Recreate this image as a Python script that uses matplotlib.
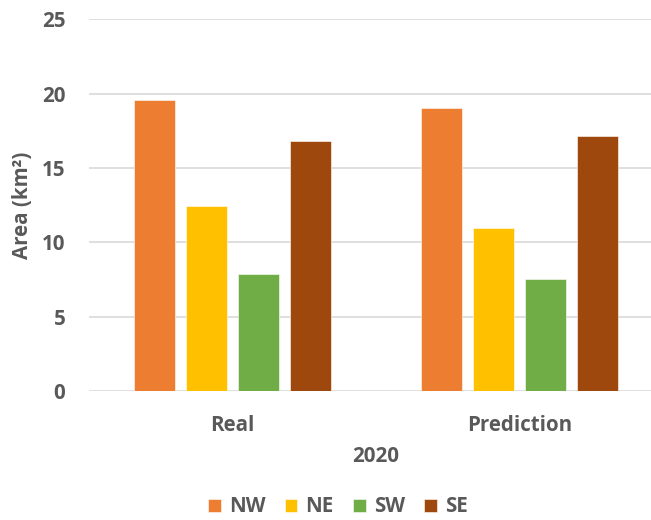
import numpy as np
import matplotlib.pyplot as plt

# Area per quadrant, 2020
groups = ["Real", "Prediction"]
regions = ["NW", "NE", "SW", "SE"]
nw = [19.6, 19.05]
ne = [12.45, 10.98]
sw = [7.9, 7.5]
se = [16.83, 17.15]
colors = ["#ED7D31", "#FFC000", "#70AD47", "#9E480E"]

text_color = "#595959"
fs = 14.8
plt.rcParams["font.family"] = ["Open Sans", "DejaVu Sans"]
plt.rcParams["font.weight"] = "bold"

fig = plt.figure(figsize=(6.51, 5.20), dpi=100)
W, H = 651, 520
ax = fig.add_axes([89 / W, (H - 391) / H, (W - 89) / W, 371.7 / H])

x = np.arange(len(groups))
width = 0.143
step = 0.181
for i, (name, vals) in enumerate(zip(regions, [nw, ne, sw, se])):
    ax.bar(x + (i - 1.5) * step, vals, width, color=colors[i], label=name,
           edgecolor="white", linewidth=0.4, zorder=3)

ax.set_xlim(-0.5, (W - 232.5) / 287)
ax.set_ylim(0, 25)
ax.set_yticks(np.arange(0, 26, 5))
ax.grid(axis="y", color="#D9D9D9", linewidth=1.2, zorder=0)
for s in ax.spines.values():
    s.set_visible(False)
ax.set_xticks(x)
ax.set_xticklabels(groups)
ax.tick_params(axis="both", length=0, labelsize=fs, labelcolor=text_color)
ax.tick_params(axis="x", pad=17.5)
ax.tick_params(axis="y", pad=17)

ax.set_xlabel("2020", fontsize=fs, fontweight="bold", color=text_color)
ax.xaxis.set_label_coords((376 - 89) / (W - 89), (391 - 457) / 371.7)
ax.set_ylabel("Area (km²)", fontsize=fs, fontweight="bold", color=text_color)
ax.yaxis.set_label_coords((23 - 89) / (W - 89), 0.5)
ax.xaxis.label.set_va("center")
ax.yaxis.label.set_va("center")

leg = fig.legend(loc="center", bbox_to_anchor=(338 / W, 1 - 507 / H), ncol=4,
                 frameon=False, fontsize=fs, handlelength=0.6, handleheight=0.6,
                 handletextpad=0.4, columnspacing=0.95)
for t in leg.get_texts():
    t.set_color(text_color)

fig.savefig("out.png", dpi=100)
